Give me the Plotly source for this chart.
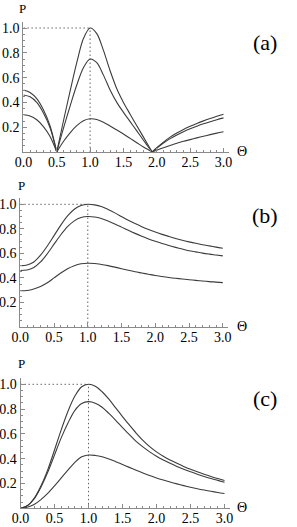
import plotly.graph_objects as go

# ---------------- data ----------------
theta = [0.0, 0.1, 0.2, 0.3, 0.4, 0.5, 0.6, 0.7, 0.8, 0.9, 1.0,
         1.1, 1.2, 1.3, 1.4, 1.5, 1.6, 1.7, 1.8, 1.9, 2.0,
         2.1, 2.2, 2.3, 2.4, 2.5, 2.6, 2.7, 2.8, 2.9, 3.0]

# panel (a) has a second cusp near 1.93
theta_a = [0.0, 0.1, 0.2, 0.3, 0.4, 0.5, 0.6, 0.7, 0.8, 0.9, 1.0,
           1.1, 1.2, 1.3, 1.4, 1.5, 1.6, 1.7, 1.8, 1.9, 1.93, 2.0,
           2.1, 2.2, 2.3, 2.4, 2.5, 2.6, 2.7, 2.8, 2.9, 3.0]

a_top = [0.50, 0.48, 0.43, 0.34, 0.21, 0.0, 0.25, 0.49, 0.72, 0.915, 1.0,
         0.955, 0.82, 0.655, 0.51, 0.40, 0.305, 0.212, 0.12, 0.028, 0.0, 0.035,
         0.08, 0.12, 0.153, 0.182, 0.207, 0.23, 0.251, 0.27, 0.288, 0.305]
a_mid = [0.46, 0.445, 0.40, 0.315, 0.195, 0.0, 0.19, 0.37, 0.54, 0.68, 0.75,
         0.72, 0.62, 0.50, 0.40, 0.32, 0.245, 0.17, 0.095, 0.022, 0.0, 0.03,
         0.072, 0.108, 0.138, 0.164, 0.187, 0.208, 0.227, 0.244, 0.26, 0.275]
a_low = [0.30, 0.29, 0.26, 0.205, 0.125, 0.0, 0.085, 0.155, 0.212, 0.252, 0.268,
         0.262, 0.24, 0.21, 0.178, 0.145, 0.11, 0.075, 0.04, 0.01, 0.0, 0.015,
         0.035, 0.053, 0.07, 0.086, 0.10, 0.114, 0.127, 0.14, 0.152, 0.163]

b_top = [0.50, 0.505, 0.53, 0.585, 0.66, 0.745, 0.83, 0.905, 0.96, 0.99, 1.0,
         0.995, 0.982, 0.958, 0.93, 0.90, 0.87, 0.843, 0.818, 0.795, 0.774,
         0.755, 0.738, 0.722, 0.707, 0.694, 0.682, 0.671, 0.661, 0.651, 0.642]
b_mid = [0.46, 0.464, 0.485, 0.53, 0.597, 0.675, 0.752, 0.818, 0.865, 0.892, 0.90,
         0.896, 0.884, 0.864, 0.84, 0.814, 0.788, 0.763, 0.74, 0.718, 0.698,
         0.68, 0.664, 0.649, 0.635, 0.622, 0.612, 0.602, 0.594, 0.587, 0.58]
b_low = [0.295, 0.298, 0.31, 0.33, 0.36, 0.40, 0.44, 0.475, 0.50, 0.515, 0.52,
         0.518, 0.51, 0.50, 0.488, 0.475, 0.462, 0.45, 0.44, 0.43, 0.42,
         0.412, 0.404, 0.397, 0.391, 0.385, 0.38, 0.375, 0.37, 0.366, 0.362]

c_top = [0.0, 0.02, 0.08, 0.18, 0.31, 0.47, 0.635, 0.785, 0.905, 0.98, 1.0,
         0.985, 0.94, 0.88, 0.81, 0.74, 0.672, 0.607, 0.548, 0.497, 0.455,
         0.42, 0.39, 0.363, 0.338, 0.315, 0.294, 0.275, 0.257, 0.24, 0.224]
c_mid = [0.0, 0.02, 0.075, 0.17, 0.29, 0.43, 0.57, 0.69, 0.79, 0.845, 0.86,
         0.848, 0.815, 0.765, 0.71, 0.65, 0.595, 0.54, 0.495, 0.455, 0.42,
         0.39, 0.363, 0.338, 0.315, 0.295, 0.275, 0.257, 0.24, 0.225, 0.21]
c_low = [0.0, 0.008, 0.03, 0.07, 0.12, 0.18, 0.245, 0.31, 0.37, 0.415, 0.43,
         0.426, 0.415, 0.398, 0.376, 0.353, 0.33, 0.307, 0.285, 0.264, 0.245,
         0.228, 0.212, 0.197, 0.183, 0.17, 0.158, 0.147, 0.137, 0.128, 0.12]

x_tick_vals = [0.0, 0.5, 1.0, 1.5, 2.0, 2.5, 3.0]
x_tick_text = ["0.0", "0.5", "1.0", "1.5", "2.0", "2.5", "3.0"]
y_tick_vals = [0.2, 0.4, 0.6, 0.8, 1.0]
y_tick_text = ["0.2", "0.4", "0.6", "0.8", "1.0"]
x_minor = [0.1 * i for i in range(31)]
y_minor = [0.05 * i for i in range(22)]

guide_theta = 1.0   # dotted guide position
guide_p = 1.0

panel_labels = ["(a)", "(b)", "(c)"]

# ---------------- layout geometry (pixels) ----------------
W, H = 297, 527
FONT = "Liberation Serif"
LINE = "#3c3c3c"
AXC = "#8a8a8a"

# (x of theta=0, px per unit, y of P=0, px per unit)
geo = [(23.4, 66.7, 152.0, 124.0),
       (20.3, 67.5, 327.0, 122.7),
       (20.5, 68.0, 508.3, 124.0)]
XMAX, YMAX = 3.08, 1.05

def px(x):
    return x / W

def py(y):
    return 1 - y / H

fig = go.Figure()

def add_curve(xs, ys, xa, ya, split_zero=False):
    if split_zero:
        segs, cur_x, cur_y = [], [], []
        for i, (xv, yv) in enumerate(zip(xs, ys)):
            cur_x.append(xv)
            cur_y.append(yv)
            if yv == 0 and 0 < i < len(xs) - 1:
                segs.append((cur_x, cur_y))
                cur_x, cur_y = [xv], [yv]
        segs.append((cur_x, cur_y))
    else:
        segs = [(xs, ys)]
    for sx, sy in segs:
        fig.add_trace(go.Scatter(x=sx, y=sy, mode="lines", xaxis=xa, yaxis=ya,
                                 line=dict(color=LINE, width=1.1, shape="spline",
                                           smoothing=0.9),
                                 showlegend=False, hoverinfo="skip"))

panels = [
    (theta_a, [a_top, a_mid, a_low], True),
    (theta, [b_top, b_mid, b_low], False),
    (theta, [c_top, c_mid, c_low], False),
]

layout = dict(width=W, height=H, margin=dict(l=0, r=0, t=0, b=0, pad=0),
              autosize=False, template="none",
              plot_bgcolor="white", paper_bgcolor="white", showlegend=False,
              font=dict(family=FONT, color="black", size=14))
annotations = []
shapes = []

for k, (xs, curves, split) in enumerate(panels):
    n = "" if k == 0 else str(k + 1)
    xa, ya = "x" + n, "y" + n
    x0, sx, y0, sy = geo[k]
    xdom = [px(x0), px(x0 + XMAX * sx)]
    ydom = [py(y0), py(y0 - YMAX * sy)]
    common = dict(showline=True, linecolor=AXC, linewidth=1, ticks="inside",
                  ticklen=4, tickwidth=1, tickcolor=AXC, tickmode="array",
                  showgrid=False, zeroline=False, fixedrange=True, automargin=False,
                  tickfont=dict(family=FONT, size=14, color="black"))
    layout["xaxis" + n] = dict(
        domain=xdom, range=[0, XMAX], anchor=ya,
        tickvals=x_tick_vals, ticktext=x_tick_text, ticklabelstandoff=-3,
        minor=dict(tickmode="array", tickvals=x_minor, ticks="inside",
                   ticklen=2, tickcolor=AXC, tickwidth=1, showgrid=False),
        **common)
    layout["yaxis" + n] = dict(
        domain=ydom, range=[0, YMAX], anchor=xa,
        tickvals=y_tick_vals, ticktext=y_tick_text,
        minor=dict(tickmode="array", tickvals=y_minor, ticks="inside",
                   ticklen=2, tickcolor=AXC, tickwidth=1, showgrid=False),
        **common)
    for cy in curves:
        add_curve(xs, cy, xa, ya, split_zero=split)
    # dotted guides
    dot = dict(color="#666666", width=1, dash="1.5px,2.5px")
    shapes.append(dict(type="line", xref=xa, yref=ya, x0=0, x1=guide_theta,
                       y0=guide_p, y1=guide_p, line=dot, layer="below"))
    shapes.append(dict(type="line", xref=xa, yref=ya, x0=guide_theta,
                       x1=guide_theta, y0=0, y1=guide_p, line=dot, layer="below"))

# axis titles and panel labels (pixel positions)
p_pos = [(22.7, 8.3), (21.0, 185.0), (21.0, 363.3)]
t_pos = [(241.7, 151.5), (241.7, 326.0), (241.7, 507.5)]
l_pos = [(265.0, 43.0), (265.0, 215.0), (265.0, 398.3)]
for k in range(3):
    annotations.append(dict(text="P", x=px(p_pos[k][0]), y=py(p_pos[k][1]),
                            xref="paper", yref="paper", showarrow=False,
                            xanchor="center", yanchor="middle",
                            font=dict(family=FONT, size=13, color="black")))
    annotations.append(dict(text="Θ", x=px(t_pos[k][0]), y=py(t_pos[k][1]),
                            xref="paper", yref="paper", showarrow=False,
                            xanchor="center", yanchor="middle",
                            font=dict(family=FONT, size=14, color="black")))
    annotations.append(dict(text=panel_labels[k], x=px(l_pos[k][0]), y=py(l_pos[k][1]),
                            xref="paper", yref="paper", showarrow=False,
                            xanchor="center", yanchor="middle",
                            font=dict(family=FONT, size=22, color="black")))

layout["annotations"] = annotations
layout["shapes"] = shapes
fig.update_layout(**layout)
fig.write_html("out.html", config={"displayModeBar": False},
               post_script="document.body.style.margin='0px';")
